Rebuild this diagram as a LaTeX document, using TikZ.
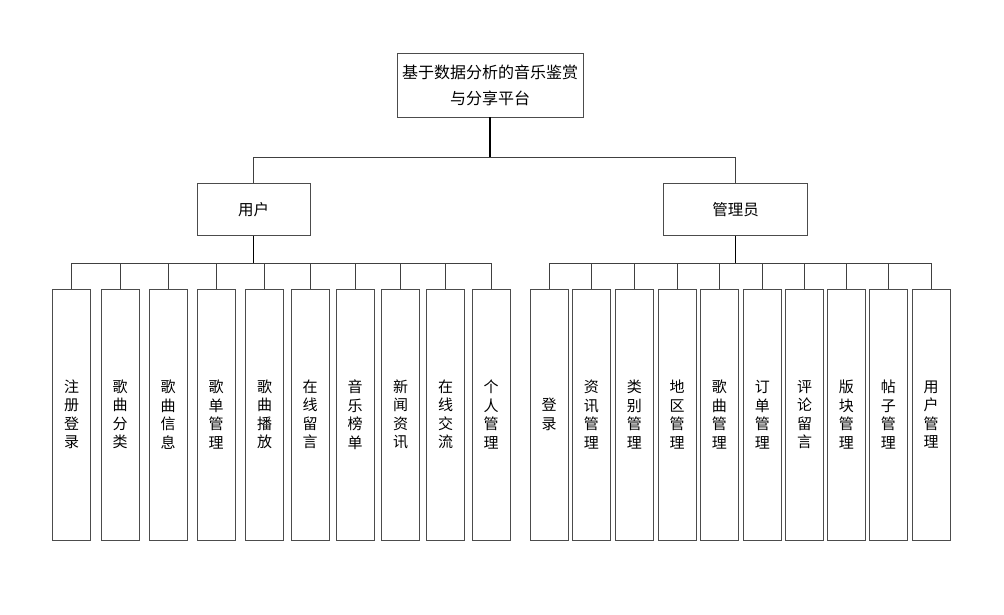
\documentclass[tikz,border=0pt]{standalone}
\usepackage{fontspec}
\setmainfont{Noto Sans CJK SC}
\begin{document}
\begin{tikzpicture}[x=1pt,y=-1pt,
  box/.style={draw=black!70,line width=0.9pt,fill=white,inner sep=0pt,align=center},
  leaf/.style={box,minimum width=38pt,minimum height=251pt,text width=20pt,
    font=\fontsize{15pt}{18.5pt}\selectfont},
  stem/.style={draw=black,line width=1.3pt},
  wire/.style={draw=black!75,line width=0.8pt}]
\useasboundingbox (0,0) rectangle (1004,614);

% root and the two roles
\node[box,minimum width=186pt,minimum height=64pt,
  font=\fontsize{16pt}{26pt}\selectfont] (root) at (490,85)
  {基于数据分析的音乐鉴赏\\与分享平台};
\node[box,minimum width=113pt,minimum height=52pt,
  font=\fontsize{15.5pt}{18pt}\selectfont] (user) at (253.7,209.5) {用户};
\node[box,minimum width=144pt,minimum height=52pt,
  font=\fontsize{15.5pt}{18pt}\selectfont] (admin) at (735.5,209.5) {管理员};

% user functions
\foreach \n/\x/\t in {u1/71.7/注\\册\\登\\录, u2/120/歌\\曲\\分\\类,
  u3/168/歌\\曲\\信\\息, u4/216/歌\\单\\管\\理, u5/264.7/歌\\曲\\播\\放,
  u6/310/在\\线\\留\\言, u7/355/音\\乐\\榜\\单, u8/400.7/新\\闻\\资\\讯,
  u9/445.7/在\\线\\交\\流, u10/491/个\\人\\管\\理}
  \node[leaf] (\n) at (\x,414.5) {\t};

% administrator functions
\foreach \n/\x/\t in {a1/549/登\\录, a2/591.3/资\\讯\\管\\理,
  a3/634.3/类\\别\\管\\理, a4/677/地\\区\\管\\理, a5/719.3/歌\\曲\\管\\理,
  a6/762.3/订\\单\\管\\理, a7/804.7/评\\论\\留\\言, a8/846.3/版\\块\\管\\理,
  a9/888.3/帖\\子\\管\\理, a10/931/用\\户\\管\\理}
  \node[leaf] (\n) at (\x,414.5) {\t};

% root to roles
\draw[stem] (root.south) -- ++(0,40) coordinate (rbus);
\draw[wire] (rbus) -| (user.north);
\draw[wire] (rbus) -| (admin.north);

% user to its functions
\draw[stem] (user.south) -- ++(0,27.3) coordinate (ubus);
\foreach \n in {u1,u2,u3,u4,u5,u6,u7,u8,u9,u10}
  \draw[wire] (ubus) -| (\n.north);

% administrator to its functions
\draw[stem] (admin.south) -- ++(0,27.3) coordinate (abus);
\foreach \n in {a1,a2,a3,a4,a5,a6,a7,a8,a9,a10}
  \draw[wire] (abus) -| (\n.north);
\end{tikzpicture}
\end{document}
